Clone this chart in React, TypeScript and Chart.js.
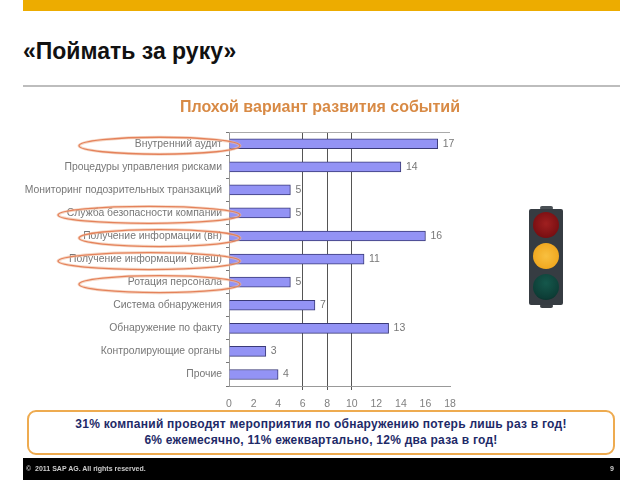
import React, { useEffect, useRef } from "react";
import { Chart, registerables } from "chart.js";

Chart.register(...registerables);

const categories = [
  "Внутренний аудит",
  "Процедуры управления рисками",
  "Мониторинг подозрительных транзакций",
  "Служба безопасности компании",
  "Получение информации (вн)",
  "Получение информации (внеш)",
  "Ротация персонала",
  "Система обнаружения",
  "Обнаружение по факту",
  "Контролирующие органы",
  "Прочие",
];
const values = [17, 14, 5, 5, 16, 11, 5, 7, 13, 3, 4];
const highlighted = [0, 3, 4, 5, 6];
const darkGridTicks = [6, 8, 10];
const pageTitle = "«Поймать за руку»";
const chartTitle = "Плохой вариант развития событий";
const calloutLines = [
  "31% компаний проводят мероприятия по обнаружению потерь лишь раз в год!",
  "6% ежемесячно, 11% ежеквартально, 12% два раза в год!",
];
const footerText = "©  2011 SAP AG. All rights reserved.";
const pageNumber = "9";

const FONT = "'Liberation Sans', Arial, sans-serif";

const overlayPlugin = {
  id: "overlay",
  afterLayout(chart: any) {
    // centre the title over the whole slide, not only the plot's box
    chart.titleBlock.left = 0;
    chart.titleBlock.right = chart.width;
  },
  afterDatasetsDraw(chart: any) {
    const { ctx, chartArea } = chart;
    const meta = chart.getDatasetMeta(0);
    ctx.save();
    ctx.strokeStyle = "#aaaaaa";
    ctx.lineWidth = 1;
    ctx.beginPath();
    ctx.moveTo(chartArea.left, Math.round(chartArea.top) + 0.5);
    ctx.lineTo(chartArea.right, Math.round(chartArea.top) + 0.5);
    ctx.stroke();
    ctx.font = `10.5px ${FONT}`;
    ctx.fillStyle = "#777777";
    ctx.textBaseline = "middle";
    ctx.textAlign = "left";
    meta.data.forEach((bar: any, i: number) => {
      ctx.fillText(String(values[i]), bar.x + 5, bar.y);
    });
    highlighted.forEach((i) => {
      const bar = meta.data[i];
      const right = chartArea.left + 11;
      const left = i === 3 || i === 5 ? 58 : 79;
      const cx = (left + right) / 2;
      const rx = (right - left) / 2;
      ctx.beginPath();
      ctx.ellipse(cx, bar.y + 2, rx, 8.5, 0, 0, Math.PI * 2);
      ctx.strokeStyle = "rgba(240,190,160,0.6)";
      ctx.lineWidth = 3;
      ctx.stroke();
      ctx.strokeStyle = "rgba(228,125,85,0.95)";
      ctx.lineWidth = 1.3;
      ctx.stroke();
    });
    ctx.restore();
  },
};

export default function App() {
  const ref = useRef<HTMLCanvasElement>(null);
  useEffect(() => {
    document.body.style.margin = "0";
    const chart = new Chart(ref.current as HTMLCanvasElement, {
      type: "bar",
      data: {
        labels: categories,
        datasets: [
          {
            data: values,
            backgroundColor: "#9393f5",
            borderColor: "#3a3a78",
            borderWidth: 1,
            barThickness: 10,
          },
        ],
      },
      options: {
        indexAxis: "y",
        animation: false,
        responsive: false,
        maintainAspectRatio: false,
        layout: { padding: { top: 0, right: 190, bottom: 0, left: 0 } },
        plugins: {
          legend: { display: false },
          tooltip: { enabled: false },
          title: {
            display: true,
            text: chartTitle,
            color: "#d88a45",
            font: { family: FONT, size: 16, weight: "bold" },
            padding: { top: 98, bottom: 15 },
          },
        },
        scales: {
          x: {
            min: 0,
            max: 18,
            afterFit(s: any) {
              s.height = 94;
            },
            ticks: {
              stepSize: 2,
              maxRotation: 0,
              color: "#808080",
              padding: 8,
              font: { family: FONT, size: 10.5 },
            },
            border: { color: "#999999" },
            grid: {
              drawTicks: true,
              tickLength: 4,
              color: (c: any) =>
                darkGridTicks.includes(c.tick?.value) ? "#555555" : "rgba(0,0,0,0)",
            },
          },
          y: {
            afterFit(s: any) {
              s.width = 229;
            },
            ticks: {
              color: "#777777",
              padding: 4,
              autoSkip: false,
              font: { family: FONT, size: 10.4 },
            },
            border: { color: "#999999" },
            grid: { drawOnChartArea: false, tickLength: 3, color: "#777777" },
          },
        },
      } as any,
      plugins: [overlayPlugin],
    });
    return () => chart.destroy();
  }, []);

  const lens = (top: number, grad: string): React.CSSProperties => ({
    position: "absolute",
    left: 533,
    top,
    width: 26,
    height: 26,
    borderRadius: "50%",
    background: grad,
  });

  return (
    <div style={{ position: "relative", width: 640, height: 480, overflow: "hidden", background: "#fff", fontFamily: FONT, filter: "blur(0.4px)" }}>
      <div style={{ position: "absolute", left: 23, top: 0, width: 597, height: 11, background: "#edac00" }} />
      <div style={{ position: "absolute", left: 23, top: 38, fontSize: 23, lineHeight: "27px", fontWeight: "bold", color: "#111", whiteSpace: "nowrap" }}>{pageTitle}</div>
      <div style={{ position: "absolute", left: 23, top: 85, width: 597, height: 2, background: "#bdbdbd" }} />
      <canvas ref={ref} width={640} height={480} style={{ position: "absolute", left: 0, top: 0 }} />

      <div style={{ position: "absolute", left: 540, top: 206, width: 13, height: 4, background: "#4a5055", borderRadius: 2 }} />
      <div style={{ position: "absolute", left: 540, top: 304, width: 13, height: 4, background: "#3a3f44", borderRadius: 2 }} />
      <div style={{ position: "absolute", left: 529, top: 209, width: 34, height: 96, background: "#363c42", borderRadius: 2 }} />
      <div style={lens(212, "radial-gradient(circle at 50% 45%, #a02020, #7a0f12 70%, #4a0a0c)")} />
      <div style={lens(243, "radial-gradient(circle at 50% 50%, #f8c040, #f0a820 70%, #b07010)")} />
      <div style={lens(274, "radial-gradient(circle at 50% 35%, #15584c, #0d3d36 70%, #081f1e)")} />

      <div style={{ position: "absolute", left: 27, top: 410, width: 588, height: 45, boxSizing: "border-box", border: "2px solid #eeab50", borderRadius: 9, background: "#fff", color: "#1e2a68", fontSize: 12, fontWeight: "bold", textAlign: "center", lineHeight: "16px", paddingTop: 4, letterSpacing: 0.25, whiteSpace: "nowrap" }}>
        <div>{calloutLines[0]}</div>
        <div>{calloutLines[1]}</div>
      </div>

      <div style={{ position: "absolute", left: 23, top: 458, width: 597, height: 22, background: "#000", color: "#ccc", fontSize: 7, fontWeight: "bold" }}>
        <span style={{ position: "absolute", left: 3, top: 7, whiteSpace: "pre" }}>{footerText}</span>
        <span style={{ position: "absolute", right: 6, top: 7 }}>{pageNumber}</span>
      </div>
    </div>
  );
}
